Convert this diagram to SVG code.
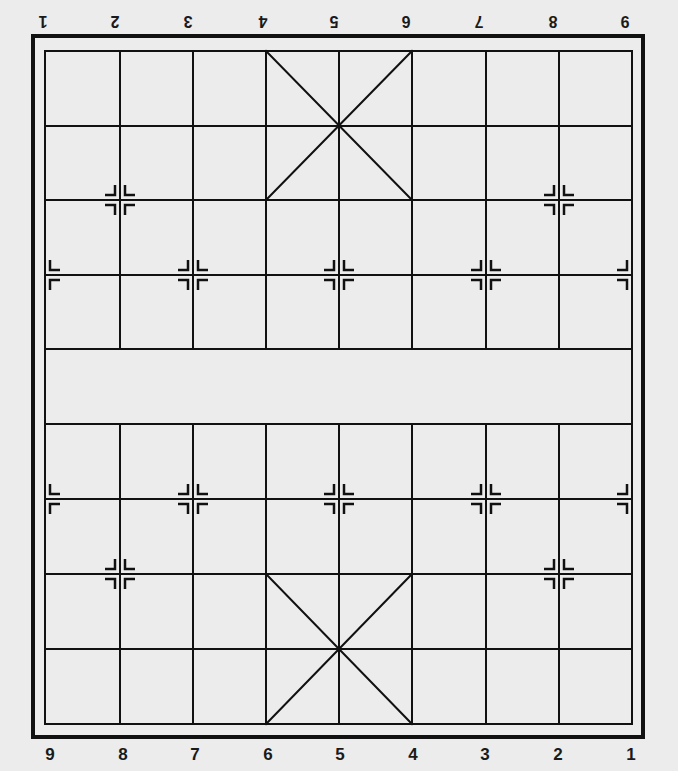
<svg xmlns="http://www.w3.org/2000/svg" xmlns:xlink="http://www.w3.org/1999/xlink" width="678" height="771" viewBox="0 0 678 771">
  <style>
    .grid { stroke: #111; stroke-width: 2; fill: none; stroke-linecap: square; }
    .border { stroke: #111; stroke-width: 4; fill: none; }
    .mk { stroke: #111; stroke-width: 2.5; fill: none; }
    .num { font-family: "Liberation Sans", Arial, sans-serif; font-size: 17px; font-weight: bold; fill: #1a1a1a; text-anchor: middle; }
    .numt { font-size: 16px; }
  </style>
  <defs>
    <g id="mL">
      <path class="mk" d="M -15,-5 H -5 V -15 M -15,5 H -5 V 15"/>
    </g>
    <g id="mR">
      <path class="mk" d="M 15,-5 H 5 V -15 M 15,5 H 5 V 15"/>
    </g>
    <g id="mF">
      <use xlink:href="#mL"/>
      <use xlink:href="#mR"/>
    </g>
  </defs>

  <rect x="0" y="0" width="678" height="771" fill="#ececec"/>
  <rect id="outer-border" class="border" x="33" y="36" width="610" height="701" fill="#e8e8e8"/>

  <g id="grid">
    <rect class="grid" x="45" y="51" width="587" height="673"/>
    <path class="grid" d="M45,126 H632 M45,200 H632 M45,275 H632 M45,349 H632 M45,424 H632 M45,499 H632 M45,574 H632 M45,649 H632"/>
    <path class="grid" d="M120,51 V349 M193,51 V349 M266,51 V349 M339,51 V349 M412,51 V349 M486,51 V349 M559,51 V349"/>
    <path class="grid" d="M120,424 V724 M193,424 V724 M266,424 V724 M339,424 V724 M412,424 V724 M486,424 V724 M559,424 V724"/>
  </g>

  <g id="palace-top">
    <path class="grid" d="M266,51 L412,200 M412,51 L266,200"/>
  </g>
  <g id="palace-bottom">
    <path class="grid" d="M266,574 L412,724 M412,574 L266,724"/>
  </g>

  <g id="markers">
    <use xlink:href="#mF" x="120" y="200"/>
    <use xlink:href="#mF" x="559" y="200"/>
    <use xlink:href="#mR" x="45" y="275"/>
    <use xlink:href="#mF" x="193" y="275"/>
    <use xlink:href="#mF" x="339" y="275"/>
    <use xlink:href="#mF" x="486" y="275"/>
    <use xlink:href="#mL" x="632" y="275"/>
    <use xlink:href="#mR" x="45" y="499"/>
    <use xlink:href="#mF" x="193" y="499"/>
    <use xlink:href="#mF" x="339" y="499"/>
    <use xlink:href="#mF" x="486" y="499"/>
    <use xlink:href="#mL" x="632" y="499"/>
    <use xlink:href="#mF" x="120" y="574"/>
    <use xlink:href="#mF" x="559" y="574"/>
  </g>

  <g id="numbers-top">
    <text class="num numt" transform="translate(43,16) rotate(180)">1</text>
    <text class="num numt" transform="translate(115,16) rotate(180)">2</text>
    <text class="num numt" transform="translate(188,16) rotate(180)">3</text>
    <text class="num numt" transform="translate(263,16) rotate(180)">4</text>
    <text class="num numt" transform="translate(334,16) rotate(180)">5</text>
    <text class="num numt" transform="translate(406,16) rotate(180)">6</text>
    <text class="num numt" transform="translate(479,16) rotate(180)">7</text>
    <text class="num numt" transform="translate(553,16) rotate(180)">8</text>
    <text class="num numt" transform="translate(625,16) rotate(180)">9</text>
  </g>

  <g id="numbers-bottom">
    <text class="num" x="50" y="760">9</text>
    <text class="num" x="123" y="760">8</text>
    <text class="num" x="195" y="760">7</text>
    <text class="num" x="268" y="760">6</text>
    <text class="num" x="340" y="760">5</text>
    <text class="num" x="413" y="760">4</text>
    <text class="num" x="485" y="760">3</text>
    <text class="num" x="558" y="760">2</text>
    <text class="num" x="631" y="760">1</text>
  </g>
</svg>
